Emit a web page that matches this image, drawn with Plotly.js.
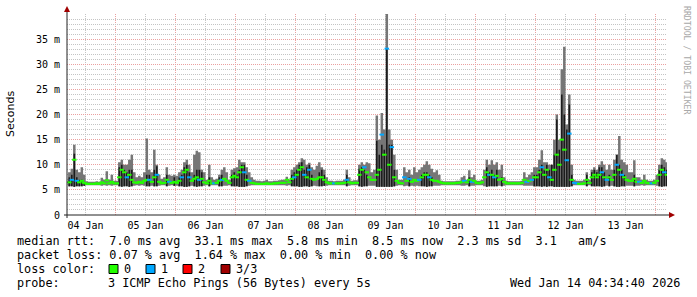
<!DOCTYPE html>
<html><head><meta charset="utf-8">
<script src="https://cdn.plot.ly/plotly-3.0.1.min.js"></script>
<style>html,body{margin:0;padding:0;background:#fff;}#chart{width:697px;height:297px;}</style>
</head><body><div id="chart"></div>
<script>
// hourly samples starting 2026-01-04 05:00, one value per hour (ms)
const firstSample = Date.UTC(2026, 0, 4, 5);
const sampleStepMs = 3600000;
const dayLabels = ['04 Jan','05 Jan','06 Jan','07 Jan','08 Jan','09 Jan','10 Jan','11 Jan','12 Jan','13 Jan'];

// max of pings (top of grey smoke)
const maxMs = [
 8.5,9.2,14.0,9.0,8.5,9.5,8.0,6.7,6.6,6.6,6.6,6.7,6.6,7.4,7.0,8.7,7.0,8.0,6.8,
 6.8,10.5,11.0,10.0,10.0,11.0,12.0,8.5,7.5,7.8,7.5,8.5,15.2,9.0,8.5,13.0,10.0,8.0,7.2,7.5,9.5,8.0,7.8,8.0,
 7.8,8.5,9.0,10.5,11.0,10.0,8.5,12.0,12.8,12.5,9.0,8.5,7.0,10.0,7.5,7.0,7.2,8.0,9.0,9.5,8.5,7.0,9.0,9.3,
 9.5,11.0,10.5,10.5,9.5,8.5,7.5,7.0,6.8,6.8,6.7,6.8,7.0,6.7,6.7,6.8,6.8,6.9,7.0,7.0,7.6,7.0,9.0,9.5,
 10.0,10.5,11.3,11.0,10.0,10.4,9.5,9.0,9.8,10.5,9.5,9.0,7.5,6.8,6.8,6.7,6.8,6.8,6.8,7.0,9.0,7.5,6.8,6.9,
 6.9,10.0,10.5,10.0,10.5,10.3,8.5,9.0,19.8,15.0,20.3,17.0,40.0,17.0,15.0,12.0,9.0,7.0,7.0,9.5,8.5,9.0,8.0,9.5,
 8.5,9.0,9.5,10.0,10.7,10.0,9.2,8.5,8.9,8.0,6.8,6.7,6.7,6.7,6.7,6.7,6.8,6.8,7.5,7.8,7.0,8.9,7.5,8.0,
 6.8,6.8,7.0,9.0,11.0,10.0,10.9,10.0,10.5,9.0,10.0,7.5,6.8,6.7,6.7,6.7,6.7,6.7,6.8,8.5,7.5,8.0,8.5,9.5,
 9.5,11.0,12.9,10.5,10.5,10.0,10.0,15.0,20.0,15.0,29.0,33.5,18.0,24.0,10.0,7.0,6.8,6.8,6.8,7.0,8.5,7.0,9.0,9.5,
 9.0,10.0,10.7,10.0,9.0,10.0,9.0,11.0,12.0,15.7,11.0,10.5,10.0,8.5,8.5,10.9,7.5,7.5,7.0,8.0,7.0,6.8,6.8,7.0,
 8.0,10.0,11.3,11.0,10.5
];
// min of pings (bottom of smoke)
const minMs = [
 5.7,5.7,5.6,5.7,5.7,5.7,5.8,5.9,5.9,5.9,5.9,5.9,5.9,5.8,5.9,5.8,5.9,5.8,5.9,
 5.9,5.7,5.6,5.7,5.7,5.6,5.7,5.8,5.9,5.8,5.9,5.8,5.7,5.7,5.8,5.7,5.7,5.8,5.9,5.9,5.7,5.8,5.9,5.8,
 5.8,5.7,5.7,5.6,5.6,5.7,5.8,5.7,5.6,5.7,5.7,5.8,5.9,5.7,5.9,5.9,5.9,5.7,5.7,5.8,5.8,5.9,5.7,5.7,
 5.7,5.6,5.6,5.6,5.7,5.8,5.9,5.9,5.9,5.9,5.9,5.9,5.9,5.9,5.9,5.9,5.9,5.9,5.9,5.9,5.8,5.9,5.7,5.7,
 5.7,5.6,5.6,5.7,5.7,5.6,5.7,5.8,5.7,5.7,5.7,5.8,5.8,5.9,5.9,5.9,5.9,5.9,5.9,5.9,5.7,5.8,5.9,5.9,
 5.9,5.7,5.6,5.7,5.7,5.8,5.8,5.8,5.6,5.6,5.6,5.6,5.6,5.6,5.6,5.7,5.8,5.9,5.9,5.7,5.8,5.7,5.8,5.7,
 5.8,5.7,5.7,5.7,5.6,5.7,5.7,5.8,5.8,5.8,5.9,5.9,5.9,5.9,5.9,5.9,5.9,5.9,5.8,5.8,5.9,5.7,5.8,5.8,
 5.9,5.9,5.9,5.7,5.6,5.7,5.7,5.7,5.7,5.8,5.7,5.8,5.9,5.9,5.9,5.9,5.9,5.9,5.9,5.8,5.8,5.8,5.8,5.7,
 5.7,5.7,5.6,5.7,5.6,5.7,5.7,5.6,5.6,5.6,5.6,5.6,5.6,5.6,5.7,5.9,5.9,5.9,5.9,5.9,5.7,5.9,5.7,5.7,
 5.7,5.7,5.6,5.7,5.8,5.7,5.8,5.7,5.6,5.6,5.7,5.7,5.8,5.8,5.8,5.7,5.8,5.8,5.9,5.8,5.9,5.9,5.9,5.9,
 5.8,5.7,5.6,5.7,5.7
];
// top of dark smoke (0 = none)
const darkMs = [
 7.5,8.0,12.2,7.5,7.0,7.0,6.5,0,0,0,0,0,0,0,0,0,0,0,0,
 0,9.5,10.0,9.0,8.5,9.0,9.0,0,0,0,0,0,8.0,8.0,0,9.0,9.7,0,0,0,8.0,0,0,7.5,
 0,7.5,8.0,9.5,10.0,8.5,0,8.0,9.0,9.0,8.5,0,0,7.5,0,0,0,7.5,8.0,0,0,0,8.0,8.5,
 8.0,9.0,10.0,10.0,8.0,0,0,0,0,0,0,0,0,0,0,0,0,0,0,0,0,0,8.0,8.5,
 9.0,10.0,10.5,9.0,9.5,10.0,8.0,0,0,8.5,9.0,8.0,0,0,0,0,0,0,0,0,8.0,0,0,0,
 0,9.2,9.5,9.0,8.0,0,0,0,14.8,12.0,14.0,13.0,33.1,14.0,14.0,9.0,0,0,0,0,0,7.5,0,0,
 0,0,8.0,8.5,8.5,8.0,7.5,0,0,0,0,0,0,0,0,0,0,0,0,0,0,7.5,0,0,
 0,0,0,0,9.5,8.5,9.0,8.0,9.0,0,7.5,0,0,0,0,0,0,0,0,0,0,0,0,8.0,
 8.0,9.0,10.0,9.0,10.0,9.0,10.0,12.0,19.0,13.0,24.0,20.0,17.0,22.0,8.0,0,0,0,0,0,8.0,0,8.5,9.0,
 8.5,9.5,9.5,8.5,0,8.0,0,9.0,12.0,10.0,9.0,8.0,0,0,0,8.0,0,0,0,0,0,0,0,0,
 0,9.0,10.0,9.5,9.0
];
// median rtt
const medianMs = [
 6.5,7.0,11.0,6.8,6.5,6.8,6.4,6.2,6.2,6.2,6.2,6.3,6.2,6.5,6.3,6.9,6.3,6.6,6.3,
 6.3,7.5,9.0,8.5,7.5,8.0,7.0,6.5,6.4,6.6,6.4,6.8,7.0,7.0,6.6,7.5,8.0,6.6,6.3,6.4,7.0,6.6,6.4,6.6,
 6.4,6.8,7.5,8.5,9.0,7.5,6.8,7.2,7.5,7.0,7.2,6.5,6.3,6.8,6.3,6.3,6.4,6.8,7.0,7.2,6.8,6.4,7.5,7.8,
 7.5,8.5,9.5,8.5,7.0,6.8,6.4,6.3,6.2,6.2,6.2,6.2,6.3,6.2,6.2,6.3,6.3,6.4,6.4,6.4,7.0,6.5,7.2,7.5,
 8.0,9.0,9.5,8.0,7.5,9.0,7.2,7.0,7.2,7.5,7.5,7.0,6.5,6.3,6.3,6.3,6.3,6.3,6.3,6.4,7.0,6.5,6.3,6.4,
 6.4,8.0,9.0,9.5,8.5,7.5,7.0,7.0,8.0,9.0,16.0,12.0,33.1,10.0,13.5,7.5,6.8,6.4,6.3,7.5,6.8,7.2,6.6,7.0,
 6.8,7.0,7.5,8.0,8.0,7.5,7.0,6.8,6.8,6.6,6.4,6.3,6.3,6.3,6.3,6.3,6.4,6.4,6.6,6.8,6.5,7.0,6.6,6.8,
 6.4,6.3,6.5,7.5,8.5,8.0,8.0,7.5,7.8,7.0,7.2,6.6,6.3,6.3,6.3,6.3,6.3,6.3,6.4,7.0,6.6,6.8,7.0,7.5,
 7.5,8.5,9.5,8.0,9.0,7.5,7.0,9.0,12.0,10.0,15.0,13.0,10.9,16.2,7.0,6.4,6.3,6.2,6.2,6.3,7.0,6.4,7.5,8.0,
 7.5,8.0,8.5,7.5,7.0,7.5,7.0,8.0,10.0,9.0,8.0,7.5,7.0,6.8,6.8,7.2,6.6,6.6,6.4,6.8,6.4,6.3,6.3,6.4,
 6.8,8.0,9.0,8.5,8.0
];
// hours (since 2026-01-04 00:00) with 1 of 3 pings lost
const lossHours = [6,8,28,37,40,45,50,53,57,63,66,75,77,95,99,101,111,116,123,130,132,134,139,141,
  145,149,163,166,173,175,188,190,194,197,204,205,207,208,218,220,224,226,233,238,243];
const firstHourIndex = 5;

const yTickVals = [0,5,10,15,20,25,30,35];
const yTickText = ['0','5 m','10 m','15 m','20 m','25 m','30 m','35 m'];

const lossColors = {0:'#22ff00', 1:'#00a8ff', 2:'#ff0000', 3:'#a00000'};

// ---------- build ----------
const N = maxMs.length;
const xs = maxMs.map((_, i) => firstSample + i * sampleStepMs);
const xsE = xs.concat([firstSample + N * sampleStepMs]);
const ext = a => a.concat([a[a.length - 1]]);
const lossSet = new Set(lossHours.map(h => h - firstHourIndex));
const medX = xs.map(t => t + sampleStepMs / 2);
const medCol = medianMs.map((_, i) => lossSet.has(i) ? lossColors[1] : lossColors[0]);
// dark smoke as thin vertical strokes from min to dark top
const darkX = [], darkY = [];
darkMs.forEach((d, i) => { if (d > 0) { darkX.push(medX[i], medX[i], null); darkY.push(minMs[i], d, null); } });

const base = {type:'scatter', mode:'lines', line:{width:0, shape:'hv'}, hoverinfo:'skip', showlegend:false};
const traces = [
  Object.assign({}, base, {x:xsE, y:ext(minMs)}),
  Object.assign({}, base, {x:xsE, y:ext(maxMs), fill:'tonexty', fillcolor:'#767676'}),
  {type:'scatter', mode:'lines', x:darkX, y:darkY, connectgaps:false, hoverinfo:'skip', showlegend:false,
   line:{color:'#1c1c1c', width:1.6}},
  {type:'scatter', mode:'markers', x:medX, y:medianMs, hoverinfo:'skip', showlegend:false,
   marker:{symbol:'line-ew', size:3.2, color:medCol, line:{width:2, color:medCol}}}
];

const dayMs = 86400000;
const day0 = Date.UTC(2026, 0, 4);
const noonVals = dayLabels.map((_, i) => day0 + i * dayMs + dayMs / 2);

const PX = x => (x - 67) / 600;
const PY = y => (215 - y) / 201;
const mono = 'DejaVu Sans Mono';
const nb = s => s.replace(/ /g, '\u00a0');
const txt = (x, y, s, opts) => Object.assign({xref:'paper', yref:'paper', x:PX(x), y:PY(y), text:nb(s),
  showarrow:false, xanchor:'left', yanchor:'middle', borderpad:0,
  font:{family:mono, size:11.8, color:'#000'}}, opts || {});

const annotations = [
  txt(16, 241, 'median rtt:  7.0 ms avg  33.1 ms max  5.8 ms min  8.5 ms now  2.3 ms sd  3.1   am/s'),
  txt(16, 255, 'packet loss: 0.07 % avg  1.64 % max  0.00 % min  0.00 % now'),
  txt(16, 269, 'loss color:'),
  txt(123, 269, '0'), txt(160, 269, '1'), txt(197, 269, '2'), txt(235, 269, '3/3'),
  txt(16, 283, 'probe:'),
  txt(107, 283, '3 ICMP Echo Pings (56 Bytes) every 5s'),
  txt(681, 283, 'Wed Jan 14 04:34:40 2026', {xanchor:'right'}),
  {xref:'paper', yref:'paper', x:PX(11), y:PY(114), text:'Seconds', textangle:-90, showarrow:false,
   xanchor:'center', yanchor:'middle', font:{family:'DejaVu Sans', size:11, color:'#000'}},
  {xref:'paper', yref:'paper', x:PX(687), y:PY(60), text:nb('RRDTOOL / TOBI OETIKER'), textangle:90, showarrow:false,
   xanchor:'center', yanchor:'middle', font:{family:mono, size:8.2, color:'#a8a8a8'}}
];

const sq = (x, c) => ({type:'rect', xref:'paper', yref:'paper', x0:PX(x), x1:PX(x + 9), y0:PY(273.5), y1:PY(264.5),
  fillcolor:c, line:{color:'#000', width:1}});
const shapes = [
  {type:'line', xref:'paper', yref:'paper', x0:0, x1:0, y0:PY(218), y1:PY(10), line:{color:'#222', width:1}},
  {type:'line', xref:'paper', yref:'paper', x0:PX(64), x1:PX(671), y0:0, y1:0, line:{color:'#222', width:1}},
  {type:'path', xref:'paper', yref:'paper', path:`M ${PX(67)},${PY(6)} L ${PX(64)},${PY(12)} L ${PX(70)},${PY(12)} Z`,
   fillcolor:'#a00000', line:{width:0}},
  {type:'path', xref:'paper', yref:'paper', path:`M ${PX(675)},${PY(215)} L ${PX(669)},${PY(212)} L ${PX(669)},${PY(218)} Z`,
   fillcolor:'#a00000', line:{width:0}},
  sq(109, lossColors[0]), sq(146, lossColors[1]), sq(183, lossColors[2]), sq(221, lossColors[3])
];

const layout = {
  width:697, height:297, margin:{l:67, r:30, t:14, b:82, pad:0},
  paper_bgcolor:'#fff', plot_bgcolor:'#fff', showlegend:false,
  xaxis:{type:'date', range:['2026-01-04 04:34:40','2026-01-14 04:34:40'],
    tickmode:'array', tickvals:noonVals, ticktext:dayLabels, ticks:'', showline:false, zeroline:false,
    showgrid:true, gridcolor:'#c4c4c4', gridwidth:1, griddash:'1px,1px',
    minor:{tickmode:'linear', tick0:'2026-01-04', dtick:dayMs, showgrid:true, gridcolor:'#eaa0a0', gridwidth:1, griddash:'1px,1px'},
    tickfont:{family:mono, size:10, color:'#000'}, ticklabelstandoff:3, fixedrange:true},
  yaxis:{range:[0,40], tickmode:'array', tickvals:yTickVals, ticktext:yTickText, ticks:'',
    showline:false, zeroline:false, showgrid:true, gridcolor:'#eaa0a0', gridwidth:1, griddash:'1px,1px',
    minor:{tickmode:'linear', tick0:0, dtick:1, showgrid:true, gridcolor:'#c4c4c4', gridwidth:1, griddash:'1px,1px'},
    tickfont:{family:mono, size:10, color:'#000'}, ticklabelstandoff:6, fixedrange:true},
  annotations, shapes
};
Plotly.newPlot('chart', traces, layout, {staticPlot:true, displayModeBar:false});
</script></body></html>
